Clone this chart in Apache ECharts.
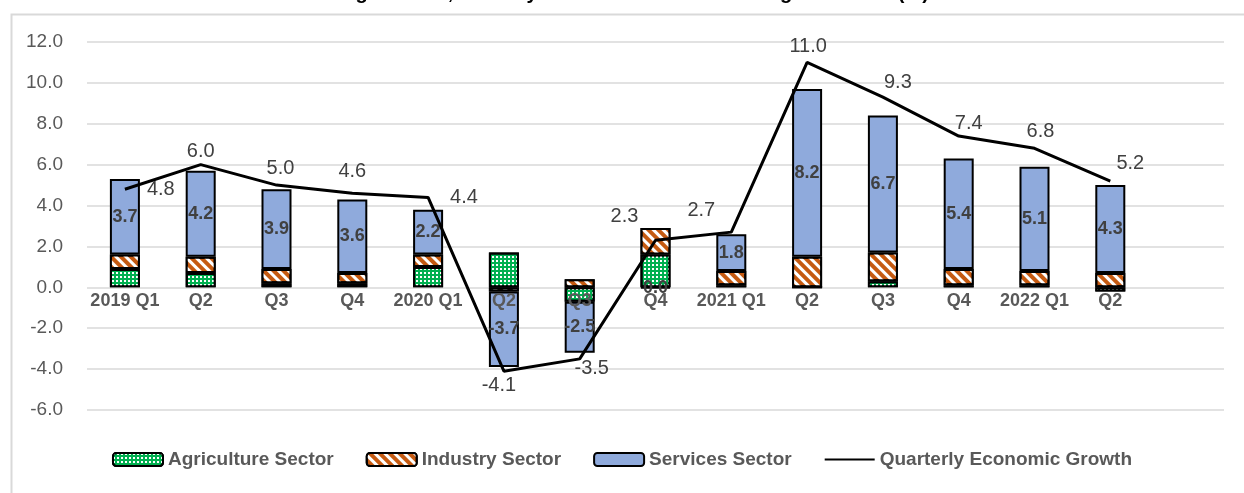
<!DOCTYPE html>
<html>
<head>
<meta charset="utf-8">
<title>Quarterly Economic Growth</title>
<script src="https://cdn.jsdelivr.net/npm/echarts@6/dist/echarts.min.js"></script>
<style>
  html, body { margin: 0; padding: 0; background: #fff; }
  #chart { width: 1244px; height: 493px; }
</style>
</head>
<body>
<div id="chart"></div>
<script>
// categories (last one is an empty slot, like the excel plot area)
const quarters = ['2019 Q1', 'Q2', 'Q3', 'Q4', '2020 Q1', 'Q2', 'Q3', 'Q4', '2021 Q1', 'Q2', 'Q3', 'Q4', '2022 Q1', 'Q2', '']
const agriculture = [0.9, 0.7, 0.2, 0.2, 1.0, 1.7, -0.7, 1.6, 0.1, 0.0, 0.3, 0.1, 0.1, -0.2]
const industry = [0.7, 0.8, 0.7, 0.5, 0.6, -0.2, 0.4, 1.3, 0.7, 1.5, 1.4, 0.8, 0.7, 0.7]
const services = [3.7, 4.2, 3.9, 3.6, 2.2, -3.7, -2.5, -0.04, 1.8, 8.2, 6.7, 5.4, 5.1, 4.3]
const growth = [4.8, 6.0, 5.0, 4.6, 4.4, -4.1, -3.5, 2.3, 2.7, 11.0, 9.3, 7.4, 6.8, 5.2]
const yTicks = [-6, -4, -2, 0, 2, 4, 6, 8, 10, 12]

// where each growth label sits relative to its point
const growthLabelPos = [
  { position: 'right', distance: 22, offset: [0, 0] },
  { position: 'top', distance: 3, offset: [0, 0] },
  { position: 'top', distance: 7, offset: [4, 0] },
  { position: 'top', distance: 12, offset: [0, 0] },
  { position: 'right', distance: 22, offset: [0, 0] },
  { position: 'bottom', distance: 4, offset: [-5, 0] },
  { position: 'bottom', distance: 0, offset: [12, 0] },
  { position: 'top', distance: 5, offset: [-31, -9] },
  { position: 'top', distance: 5, offset: [-30, -7] },
  { position: 'top', distance: 6, offset: [1, 0] },
  { position: 'top', distance: 5, offset: [15, 0] },
  { position: 'top', distance: 5, offset: [10, 2] },
  { position: 'top', distance: 5, offset: [6, -2] },
  { position: 'top', distance: 5, offset: [20, -3] }
]

const FONT = '"Liberation Sans", Arial, sans-serif'
const GRAY = '#595959'
const fmt = v => (Math.round(v * 10) / 10 || 0).toFixed(1)

let chart = echarts.init(document.getElementById('chart'))

chart.setOption({
  animation: false,
  textStyle: { fontFamily: FONT },
  // title is cut off at the top of the picture, only descenders show
  title: {
    text: 'Agriculture, Industry and Services Contributing to Growth (%)',
    left: 336,
    top: -22,
    textStyle: { fontSize: 20, fontWeight: 'bold', color: '#000', fontFamily: FONT }
  },
  graphic: [
    {
      type: 'rect',
      left: 9,
      top: 12,
      shape: { width: 1400, height: 600 },
      style: { fill: 'none', stroke: '#d9d9d9', lineWidth: 2 },
      silent: true
    }
  ],
  legend: {
    bottom: 19,
    left: 'center',
    itemWidth: 50,
    itemHeight: 13,
    itemGap: 32,
    textStyle: { fontSize: 19, fontWeight: 'bold', color: GRAY, fontFamily: FONT },
    data: [
      'Agriculture Sector',
      'Industry Sector',
      'Services Sector',
      { name: 'Quarterly Economic Growth', itemStyle: { opacity: 0 } }
    ]
  },
  grid: {
    left: 87,
    right: 20,
    top: 42,
    bottom: 83
  },
  xAxis: {
    type: 'category',
    data: quarters,
    z: 3,
    // labels sit right under the zero line (zero is 123px above the grid bottom)
    offset: -123,
    axisLine: { show: false, onZero: false },
    axisTick: { show: false },
    axisLabel: {
      interval: 0,
      margin: 5,
      fontSize: 18,
      fontWeight: 'bold',
      color: GRAY
    }
  },
  yAxis: {
    type: 'value',
    min: yTicks[0],
    max: yTicks[yTicks.length - 1],
    interval: 2,
    axisLine: { show: false },
    axisTick: { show: false },
    splitLine: { lineStyle: { color: '#d9d9d9', width: 1.5 } },
    axisLabel: {
      margin: 24,
      fontSize: 19,
      color: GRAY,
      formatter: v => v.toFixed(1)
    }
  },
  series: [
    {
      name: 'Agriculture Sector',
      type: 'bar',
      stack: 'total',
      barWidth: 30,
      data: agriculture,
      itemStyle: {
        color: '#00b050',
        borderColor: '#000',
        borderWidth: 2,
        decal: {
          symbol: 'rect',
          symbolSize: 1,
          color: '#fff',
          dashArrayX: [1.5, 1.5],
          dashArrayY: [1.5, 1.5],
          rotation: 0
        }
      }
    },
    {
      name: 'Industry Sector',
      type: 'bar',
      stack: 'total',
      barWidth: 30,
      data: industry,
      itemStyle: {
        color: '#c55a11',
        borderColor: '#000',
        borderWidth: 2,
        decal: {
          symbol: 'rect',
          symbolSize: 1,
          color: '#fff',
          dashArrayX: [1, 0],
          dashArrayY: [3, 4],
          rotation: Math.PI / 4
        }
      }
    },
    {
      name: 'Services Sector',
      type: 'bar',
      stack: 'total',
      barWidth: 30,
      data: services,
      itemStyle: {
        color: '#8faadc',
        borderColor: '#000',
        borderWidth: 2
      },
      label: {
        show: true,
        position: 'inside',
        fontSize: 18,
        fontWeight: 'bold',
        color: '#404040',
        formatter: p => fmt(p.value)
      }
    },
    {
      name: 'Quarterly Economic Growth',
      type: 'line',
      z: 5,
      symbol: 'circle',
      symbolSize: 0,
      showSymbol: true,
      data: growth.map((v, i) => ({
        value: v,
        label: growthLabelPos[i]
      })),
      lineStyle: { color: '#000', width: 3 },
      itemStyle: { color: '#000' },
      label: {
        show: true,
        fontSize: 20,
        color: '#404040',
        formatter: p => fmt(p.value)
      }
    }
  ]
})
</script>
</body>
</html>
